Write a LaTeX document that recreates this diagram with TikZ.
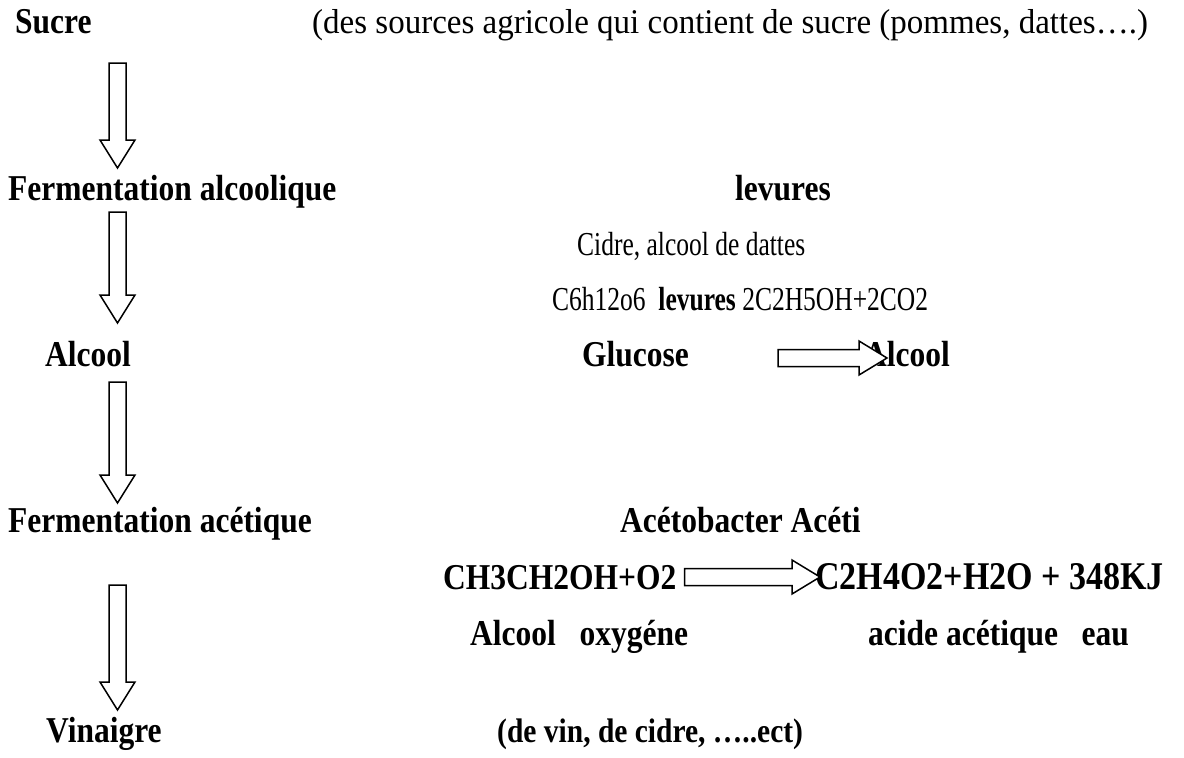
\documentclass[tikz,border=0pt]{standalone}
\usepackage{fontspec}
\setmainfont{Liberation Serif}
\usetikzlibrary{positioning, calc}

\tikzset{
  lbl/.style={anchor=base west, inner sep=0pt, yscale=1.05, font=\fontsize{33}{38}\selectfont},
  smalllbl/.style={lbl, yscale=1.25, font=\fontsize{25.5}{30}\selectfont},
  boldlbl/.style={lbl, yscale=1.1, font=\bfseries\fontsize{31.5}{36}\selectfont},
  fatline/.style={draw, fill=white, line width=1.5pt}
}

% hollow block arrows, from tail coordinate to tip coordinate
\newcommand{\downfat}[2]{\draw[fatline] ($(#1)+(-8.5,0)$) -- ($(#2)+(-8.5,-28)$) -- ($(#2)+(-17.5,-28)$) -- (#2)
  -- ($(#2)+(17.5,-28)$) -- ($(#2)+(8.5,-28)$) -- ($(#1)+(8.5,0)$) -- cycle;}
\newcommand{\rightfat}[2]{\draw[fatline] ($(#1)+(0,-8.5)$) -- ($(#2)+(-28,-8.5)$) -- ($(#2)+(-28,-17)$) -- (#2)
  -- ($(#2)+(-28,17)$) -- ($(#2)+(-28,8.5)$) -- ($(#1)+(0,8.5)$) -- cycle;}

\begin{document}
\begin{tikzpicture}[x=1pt, y=-1pt]
\useasboundingbox (0,0) rectangle (1184,758);

% left column
\node[boldlbl] (sucre) at (15,33) {Sucre};
\node[boldlbl] (falc)  at (8,200) {Fermentation alcoolique};
\node[boldlbl] (alc)   at (45,366) {Alcool};
\node[boldlbl] (facet) at (8,532) {Fermentation acétique};
\node[boldlbl] (vin)   at (46,742) {Vinaigre};

% right column
\node[lbl] (source) at (312,33) {(des sources agricole qui contient de sucre (pommes, dattes….)};
\node[boldlbl] (lev)  at (735,200) {levures};
\node[smalllbl] (cidre) at (577,255) {Cidre, alcool de dattes};
\node[smalllbl] (eqalc) at (552,310) {C6h12o6\ \ \textbf{levures} 2C2H5OH+2CO2};
\node[boldlbl] (glu)  at (582,366) {Glucose};
\node[boldlbl] (alcb) at (864,366) {Alcool};
\node[boldlbl] (aceto) at (620,532) {Acétobacter Acéti};
\node[boldlbl] (react) at (443,589) {CH3CH2OH+O2};
\node[boldlbl, font=\bfseries\fontsize{34}{38}\selectfont] (prod) at (815,589) {C2H4O2+H2O + 348KJ};
\node[boldlbl] (reactn) at (470,645) {Alcool\ \ \ oxygéne};
\node[boldlbl] (prodn)  at (868,645) {acide acétique\ \ \ eau};
\node[boldlbl, font=\bfseries\fontsize{29.5}{34}\selectfont] (types) at (497,742) {(de vin, de cidre, …..ect)};

\coordinate (a1s) at (117.5,63);  \coordinate (a1e) at (117.5,168);
\coordinate (a2s) at (117.5,212); \coordinate (a2e) at (117.5,323);
\coordinate (a3s) at (117.5,382); \coordinate (a3e) at (117.5,503);
\coordinate (a4s) at (117.5,585); \coordinate (a4e) at (117.5,710);
\coordinate (g1) at (778,358);    \coordinate (g2) at ($(alcb.base west)+(23,-8)$);
\coordinate (r1) at ($(react.base east)+(8,-12)$);
\coordinate (r2) at ($(prod.base west)+(5,-12)$);

\downfat{a1s}{a1e}
\downfat{a2s}{a2e}
\downfat{a3s}{a3e}
\downfat{a4s}{a4e}
\rightfat{g1}{g2}
\rightfat{r1}{r2}
\end{tikzpicture}
\end{document}
